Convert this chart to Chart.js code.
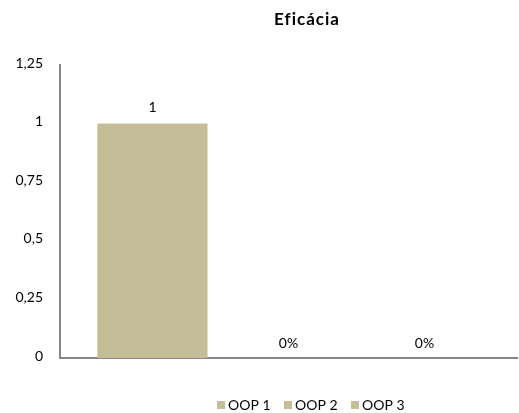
<!DOCTYPE html>
<html>
<head>
<meta charset="utf-8">
<script src="https://cdn.jsdelivr.net/npm/chart.js@4"></script>
<style>
  html, body { margin: 0; padding: 0; background: #ffffff; }
  #wrap { width: 519px; height: 413px; }
</style>
</head>
<body>
<div id="wrap"><canvas id="chart" width="519" height="413"></canvas></div>
<script>
// chart data
const categories = [""];
const seriesNames = ["OOP 1", "OOP 2", "OOP 3"];
const seriesValues = [1, 0, 0];
const valueLabels = ["1", "0%", "0%"];
const yTickLabels = ["0", "0,25", "0,5", "0,75", "1", "1,25"];

const barColor = "#C4BD97";
const axisColor = "#868686";
const fontFamily = "Lato, 'Open Sans', sans-serif";

// title, value labels and legend drawn by hand (Excel style)
const decorations = {
  id: "decorations",
  afterDatasetsDraw(chart) {
    const ctx = chart.ctx;
    ctx.save();
    ctx.fillStyle = "#000";
    ctx.textAlign = "center";
    ctx.textBaseline = "alphabetic";
    ctx.font = "14px " + fontFamily;
    chart.data.datasets.forEach((ds, i) => {
      const bar = chart.getDatasetMeta(i).data[0];
      ctx.fillText(valueLabels[i], bar.x, bar.y - (seriesValues[i] ? 12 : 10));
    });

    // title (letter spacing also keeps the "fi" unligated)
    ctx.font = "bold 17px " + fontFamily;
    ctx.letterSpacing = "1px";
    ctx.textBaseline = "middle";
    ctx.fillText("Eficácia", 307, 20);
    ctx.letterSpacing = "0px";

    // legend
    ctx.font = "14px " + fontFamily;
    ctx.textAlign = "left";
    let x = 217;
    chart.data.datasets.forEach((ds) => {
      ctx.fillStyle = ds.backgroundColor;
      ctx.fillRect(x, 401, 8, 8);
      ctx.fillStyle = "#000";
      ctx.fillText(ds.label, x + 11, 405);
      x += 67;
    });
    ctx.restore();
  }
};

new Chart(document.getElementById("chart"), {
  type: "bar",
  data: {
    labels: categories,
    datasets: seriesNames.map((name, i) => ({
      label: name,
      data: [seriesValues[i]],
      backgroundColor: barColor,
      barPercentage: 0.81,
      categoryPercentage: 0.893,
    })),
  },
  options: {
    responsive: false,
    animation: false,
    layout: { padding: { top: 65, bottom: 55, left: 0, right: 2 } },
    plugins: {
      legend: { display: false },
      title: { display: false },
      tooltip: { enabled: false },
    },
    scales: {
      x: {
        grid: { display: false, drawTicks: false },
        border: { color: axisColor, width: 2 },
        ticks: { display: false },
        afterFit(axis) { axis.height = 0; },
      },
      y: {
        min: 0,
        max: 1.25,
        grid: { display: false, drawTicks: false },
        border: { color: axisColor, width: 2 },
        ticks: {
          stepSize: 0.25,
          padding: 17,
          labelOffset: -2,
          color: "#000",
          font: { family: fontFamily, size: 14 },
          callback: (v, idx) => yTickLabels[idx],
        },
        afterFit(axis) { axis.width = 60; },
      },
    },
  },
  plugins: [decorations],
});
</script>
</body>
</html>
